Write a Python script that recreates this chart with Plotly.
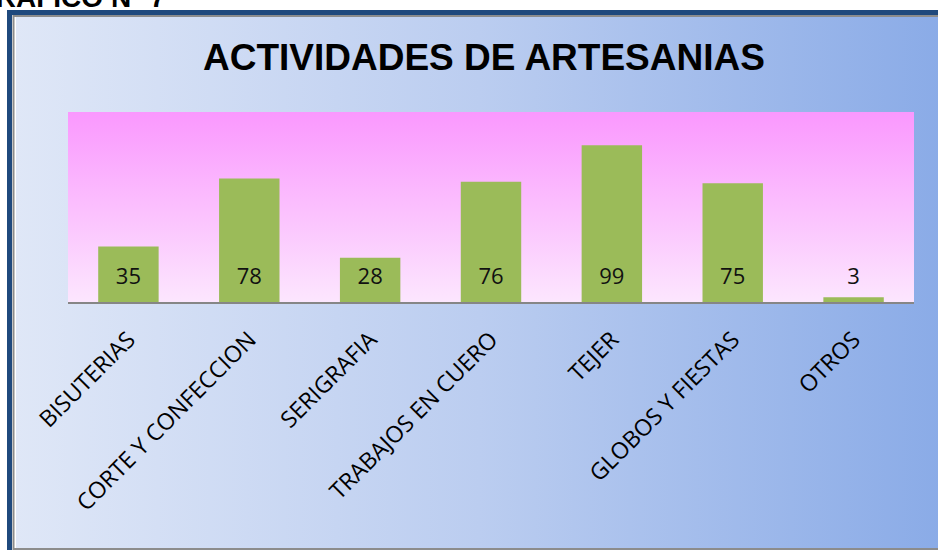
import base64
import plotly.graph_objects as go

categories = ["BISUTERIAS", "CORTE Y CONFECCION", "SERIGRAFIA", "TRABAJOS EN CUERO",
              "TEJER", "GLOBOS Y FIESTAS", "OTROS"]
values = [35, 78, 28, 76, 99, 75, 3]
title_text = "ACTIVIDADES DE ARTESANIAS"
caption_text = "GRAFICO N° 7"

W, H = 938, 550
# plot area in pixels
PX0, PX1, PY0, PY1 = 68, 914, 112, 302
YMAX = 120
LABEL_Y = 15


def svg_uri(stops, vertical):
    x2, y2 = ("0", "1") if vertical else ("1", "0")
    st = "".join(f'<stop offset="{o}" stop-color="{c}"/>' for o, c in stops)
    svg = (f'<svg xmlns="http://www.w3.org/2000/svg" width="200" height="200" '
           f'viewBox="0 0 200 200" preserveAspectRatio="none"><defs>'
           f'<linearGradient id="g" x1="0" y1="0" x2="{x2}" y2="{y2}">{st}</linearGradient>'
           f'</defs><rect width="200" height="200" fill="url(#g)"/></svg>')
    return "data:image/svg+xml;base64," + base64.b64encode(svg.encode()).decode()


def px(x):
    return x / W


def py(y):
    return 1 - y / H


fig = go.Figure()
fig.add_trace(go.Bar(x=categories, y=values, marker=dict(color="#9BBB59", line=dict(width=0)),
                     hoverinfo="x+y"))
fig.add_trace(go.Scatter(x=categories, y=[LABEL_Y] * len(values), mode="text",
                         text=[str(v) for v in values],
                         textfont=dict(family="Open Sans", size=22, color="#111111"),
                         hoverinfo="skip"))

fig.update_layout(
    width=W, height=H, margin=dict(l=0, r=0, t=0, b=0, autoexpand=False),
    paper_bgcolor="white", plot_bgcolor="rgba(0,0,0,0)",
    showlegend=False, bargap=0.5,
    xaxis=dict(domain=[px(PX0), px(PX1)], showgrid=False, zeroline=False, automargin=False,
               showline=True, linecolor="#868686", linewidth=2,
               tickangle=-45, ticks="", ticklabelstandoff=13,
               tickfont=dict(family="Open Sans", size=23, color="black")),
    yaxis=dict(domain=[py(PY1), py(PY0)], range=[0, YMAX], visible=False, automargin=False),
    images=[
        dict(source=svg_uri([(0, "#DFE7F7"), (0.5, "#BBCDF0"), (1, "#8AABE7")], False),
             xref="paper", yref="paper", x=px(16), y=py(17), sizex=px(W - 16 + 4), sizey=(H - 17) / H,
             xanchor="left", yanchor="top", sizing="stretch", layer="below"),
        dict(source=svg_uri([(0, "#FA98FE"), (1, "#FCE6FE")], True),
             xref="paper", yref="paper", x=px(PX0), y=py(PY0), sizex=px(PX1 - PX0), sizey=(PY1 - PY0) / H,
             xanchor="left", yanchor="top", sizing="stretch", layer="below"),
    ],
    shapes=[
        dict(type="rect", xref="paper", yref="paper", x0=px(9.5), x1=px(W + 10), y0=py(H + 10), y1=py(12.5),
             line=dict(color="#1F497D", width=5), fillcolor="rgba(0,0,0,0)"),
        dict(type="rect", xref="paper", yref="paper", x0=px(13.5), x1=px(W + 10), y0=py(549), y1=py(16),
             line=dict(color="#8C8C8C", width=2), fillcolor="rgba(0,0,0,0)"),
    ],
    annotations=[
        dict(text=f"<b>{title_text}</b>", xref="paper", yref="paper", x=px(484), y=py(57),
             xanchor="center", yanchor="middle", showarrow=False,
             font=dict(family="Liberation Sans", size=37, color="black")),
        dict(text=f"<b>{caption_text}</b>", xref="paper", yref="paper", x=px(168), y=py(15),
             xanchor="right", yanchor="bottom", showarrow=False,
             font=dict(family="Liberation Sans", size=28, color="black")),
    ],
)

fig.write_html("out.html", config={"displayModeBar": False},
               post_script="document.body.style.margin='0';document.body.style.overflow='hidden';")
